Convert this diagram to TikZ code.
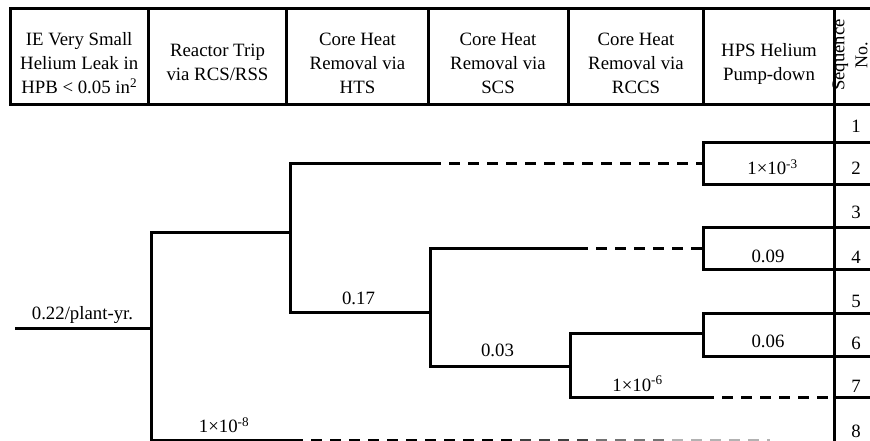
\documentclass[tikz,border=0pt]{standalone}
\usepackage{fontspec}
\setmainfont{Liberation Serif}
\begin{document}
\begin{tikzpicture}[x=1pt,y=-1pt,
  ln/.style={line width=3pt},
  dsh/.style={line width=3pt, dash pattern=on 11pt off 8pt},
  hd/.style={align=center, font=\fontsize{18.8}{24}\selectfont, inner sep=0pt},
  lbl/.style={anchor=base, font=\fontsize{18.8}{22}\selectfont, inner sep=0pt}]
\useasboundingbox (0,0) rectangle (870,441);
% header grid
\coordinate (hTL) at (10,8.7);
\coordinate (hTR) at (880,8.7);
\coordinate (hBL) at (10,105);
\coordinate (hBR) at (880,105);
\draw[ln] (hTR) -- (hTL) -- (hBL) -- (hBR);
\foreach \xx in {148.5,286.5,428.5,568,703.5}{
  \draw[ln] (\xx,8.7) -- (\xx,105);
}
\coordinate (sqT) at (834.5,8.7);
\coordinate (sqB) at (834.5,446);
\draw[ln] (sqT) -- (sqB);
% header texts
\node[hd] (c1) at (79.2,63) {IE Very Small\\Helium Leak in\\HPB < 0.05 in\textsuperscript{2}};
\node[hd] (c2) at (217.5,62) {Reactor Trip\\via RCS/RSS};
\node[hd] (c3) at (357.5,63) {Core Heat\\Removal via\\HTS};
\node[hd] (c4) at (498,63) {Core Heat\\Removal via\\SCS};
\node[hd] (c5) at (636,63) {Core Heat\\Removal via\\RCCS};
\node[hd] (c6) at (769,64) {HPS Helium\\Pump-down};
\node[hd, rotate=90, font=\fontsize{18}{23}\selectfont] (c7) at (850,55) {\scalebox{1.04}[1]{Sequence}\\No.};
% tree coordinates
\coordinate (s0) at (15,328);
\coordinate (b1) at (151,328);
\coordinate (b1u) at (151,232);
\coordinate (b1d) at (151,440);
\coordinate (b1dd) at (292,440);
\coordinate (b2) at (290,232);
\coordinate (b2u) at (290,163);
\coordinate (b2d) at (290,312);
\coordinate (b2ud) at (430,163);
\coordinate (b3) at (430,312);
\coordinate (b3u) at (430,248);
\coordinate (b3d) at (430,366.5);
\coordinate (b3ud) at (577,248);
\coordinate (b4) at (570,366.5);
\coordinate (b4u) at (570,333);
\coordinate (b4d) at (570,397);
\coordinate (b4dd) at (703,397);
\coordinate (e1) at (703,163);
\coordinate (e1u) at (703,143);
\coordinate (e1d) at (703,184);
\coordinate (e2) at (703,248);
\coordinate (e2u) at (703,227);
\coordinate (e2d) at (703,269.5);
\coordinate (e3) at (703,333);
\coordinate (e3u) at (703,313);
\coordinate (e3d) at (703,356.5);
\coordinate (r1) at (880,143);
\coordinate (r2) at (880,184);
\coordinate (r3) at (880,227);
\coordinate (r4) at (880,269.5);
\coordinate (r5) at (880,313);
\coordinate (r6) at (880,356.5);
\coordinate (q7) at (834.5,397);
\coordinate (r7) at (880,397);
% tree lines
\draw[ln] (s0) -- (b1);
\draw[ln] (b2) -- (b1u) -- (b1d) -- (b1dd);
\draw[ln] (b2ud) -- (b2u) -- (b2d) -- (b3);
\draw[dsh] (b2ud) -- (e1);
\draw[ln] (r1) -- (e1u) -- (e1d) -- (r2);
\draw[ln] (b3ud) -- (b3u) -- (b3d) -- (b4);
\draw[dsh] (b3ud) -- (e2);
\draw[ln] (r3) -- (e2u) -- (e2d) -- (r4);
\draw[ln] (e3) -- (b4u) -- (b4d) -- (b4dd);
\draw[ln] (r5) -- (e3u) -- (e3d) -- (r6);
\draw[dsh] (b4dd) -- (q7);
\draw[ln] (q7) -- (r7);
% fading bottom dashed line
\draw[dsh] (b1dd) -- (520,440);
\draw[dsh, black!75] (520,440) -- (596,440);
\draw[dsh, black!55] (596,440) -- (672,440);
\draw[dsh, black!30] (672,440) -- (770,440);
% labels
\node[lbl] (l0) at (82.5,319) {0.22/plant-yr.};
\node[lbl] (l1) at (358.5,304) {0.17};
\node[lbl] (l2) at (497.5,356) {0.03};
\node[lbl] (l3) at (637.5,391) {1×10\textsuperscript{-6}};
\node[lbl] (l4) at (224,432.5) {1×10\textsuperscript{-8}};
\node[lbl] (l5) at (772.5,175) {1×10\textsuperscript{-3}};
\node[lbl] (l6) at (768,262) {0.09};
\node[lbl] (l7) at (768,347) {0.06};
% sequence numbers
\node[lbl] (n1) at (856,133) {1};
\node[lbl] (n2) at (856,175) {2};
\node[lbl] (n3) at (856,218) {3};
\node[lbl] (n4) at (856,263) {4};
\node[lbl] (n5) at (856,307) {5};
\node[lbl] (n6) at (856,349) {6};
\node[lbl] (n7) at (856,392) {7};
\node[lbl] (n8) at (856,437) {8};
\end{tikzpicture}
\end{document}
